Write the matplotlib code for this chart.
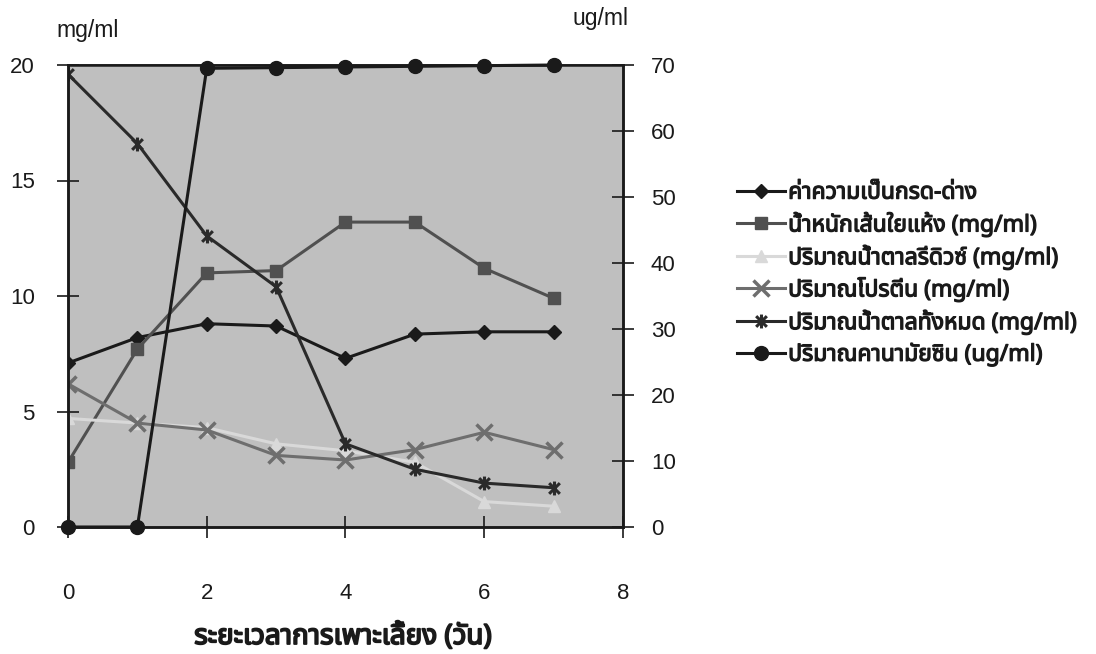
import numpy as np
import matplotlib
matplotlib.use('Agg')
from matplotlib import pyplot as plt
from matplotlib import font_manager
from matplotlib import patheffects as pe
from matplotlib.ft2font import FT2Font
from matplotlib.path import Path

days = [0, 1, 2, 3, 4, 5, 6, 7]
ph = [7.1, 8.2, 8.8, 8.7, 7.3, 8.35, 8.45, 8.45]
dry_weight = [2.8, 7.7, 11.0, 11.1, 13.2, 13.2, 11.2, 9.9]
reducing_sugar = [4.7, 4.5, 4.3, 3.6, 3.3, 2.8, 1.1, 0.9]
protein = [6.2, 4.5, 4.2, 3.1, 2.9, 3.35, 4.1, 3.35]
total_sugar = [19.6, 16.6, 12.6, 10.4, 3.6, 2.5, 1.9, 1.7]
kanamycin = [0, 0, 69.5, 69.6, 69.7, 69.8, 69.9, 70.0]

labels = ['ค่าความเป็นกรด-ด่าง',
          'น้ำหนักเส้นใยแห้ง (mg/ml)',
          'ปริมาณน้ำตาลรีดิวซ์ (mg/ml)',
          'ปริมาณโปรตีน (mg/ml)',
          'ปริมาณน้ำตาลทั้งหมด (mg/ml)',
          'ปริมาณคานามัยซิน (ug/ml)']
xlabel = 'ระยะเวลาการเพาะเลี้ยง (วัน)'


def thai_font():
    # look for any installed font that has thai glyphs
    found = []
    for f in font_manager.fontManager.ttflist:
        try:
            if 0x0E01 in FT2Font(f.fname).get_charmap():
                found.append(f.name)
        except Exception:
            pass
    for pref in ['Noto Sans Thai', 'Noto Sans Thai UI', 'Loma', 'Garuda', 'Tahoma']:
        if pref in found:
            return pref
    return found[0] if found else 'DejaVu Sans'


tfont = thai_font()
plt.rcParams['font.family'] = ['Liberation Sans', tfont, 'DejaVu Sans']
ink = '#1a1a1a'
bold = [pe.withStroke(linewidth=0.9, foreground=ink)]

# x + vertical bar, like the excel star marker
star = Path([(-1, -1), (1, 1), (-1, 1), (1, -1), (0, -1.3), (0, 1.3)],
            [Path.MOVETO, Path.LINETO, Path.MOVETO, Path.LINETO, Path.MOVETO, Path.LINETO])

fig = plt.figure(figsize=(10.96, 6.54), dpi=100)
ax = fig.add_axes([68/1096, 1-527/654, 555/1096, 462/654])
ax.set_facecolor('#bfbfbf')
ax2 = ax.twinx()

h1, = ax.plot(days, ph, color=ink, lw=2.2, marker='D', ms=7, label=labels[0])
h2, = ax.plot(days, dry_weight, color='#505050', lw=2.2, marker='s', ms=9, label=labels[1])
h3, = ax.plot(days, reducing_sugar, color='#d9d9d9', lw=2.2, marker='^', ms=9, label=labels[2])
h4, = ax.plot(days, protein, color='#6e6e6e', lw=2.2, marker='x', ms=11, mew=2.5, label=labels[3])
h5, = ax.plot(days, total_sugar, color='#2a2a2a', lw=2.2, marker=star, ms=10, mew=2.2,
              mfc='none', label=labels[4])
h6, = ax2.plot(days, kanamycin, color=ink, lw=2.2, marker='o', ms=10, label=labels[5],
               clip_on=False)

ax.set_xlim(0, 8)
ax.set_ylim(0, 20)
ax2.set_ylim(0, 70)
ax.set_xticks([0, 2, 4, 6, 8])
ax.set_yticks([0, 5, 10, 15, 20])
ax2.set_yticks(np.arange(0, 71, 10))

for a in (ax, ax2):
    for s in a.spines.values():
        s.set_linewidth(1.8)
        s.set_color(ink)
ax.spines['top'].set_linewidth(1.2)
ax.tick_params(axis='both', direction='inout', length=16, width=1.2, labelsize=16,
               colors=ink)
ax.tick_params(axis='x', pad=32)
ax.tick_params(axis='y', pad=16)
ax2.tick_params(axis='y', direction='inout', length=16, width=1.2, labelsize=16, pad=12,
                colors=ink)

fig.text(88/1096, 1-30/654, 'mg/ml', ha='center', va='center', fontsize=16.5, color=ink)
fig.text(600/1096, 1-18/654, 'ug/ml', ha='center', va='center', fontsize=16.5, color=ink)
fig.text(343/1096, 1-637/654, xlabel, ha='center', va='center', fontsize=20,
         family=[tfont, 'DejaVu Sans'], color=ink, path_effects=[pe.withStroke(linewidth=1.3, foreground=ink)])

handles = [h1, h2, h3, h4, h5, h6]
leg = fig.legend(handles, labels, loc='upper left', bbox_to_anchor=(716/1096, 1-160/654),
                 frameon=False, handlelength=2.1, labelspacing=0.31, handletextpad=0.15,
                 prop={'family': [tfont, 'DejaVu Sans'], 'size': 16.5})
for t in leg.get_texts():
    t.set_color(ink)
    t.set_path_effects(bold)

fig.savefig('out.png', dpi=100)
